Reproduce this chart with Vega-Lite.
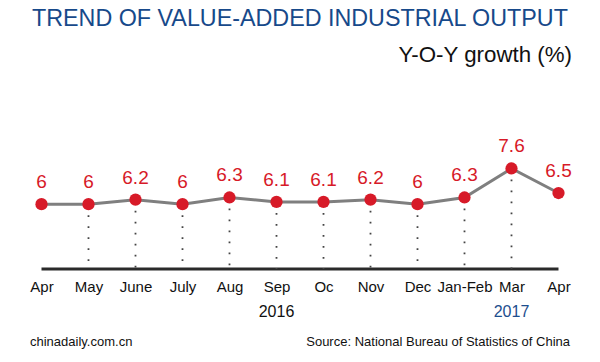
{
  "$schema": "https://vega.github.io/schema/vega-lite/v6.json",
  "width": 600,
  "height": 154,
  "autosize": {"type": "none"},
  "padding": {"left": 0, "right": 0, "top": 115, "bottom": 93},
  "background": "white",
  "title": {
    "text": "TREND OF VALUE-ADDED INDUSTRIAL OUTPUT",
    "anchor": "start",
    "frame": "group",
    "dx": 32,
    "offset": 12,
    "fontSize": 23.3,
    "font": "Liberation Sans",
    "fontWeight": "normal",
    "color": "#17498a"
  },
  "data": {
    "values": [
      {"m": "Apr 2016", "v": 6},
      {"m": "May", "v": 6},
      {"m": "June", "v": 6.2},
      {"m": "July", "v": 6},
      {"m": "Aug", "v": 6.3},
      {"m": "Sep", "v": 6.1},
      {"m": "Oc", "v": 6.1},
      {"m": "Nov", "v": 6.2},
      {"m": "Dec", "v": 6},
      {"m": "Jan-Feb", "v": 6.3},
      {"m": "Mar", "v": 7.6},
      {"m": "Apr 2017", "v": 6.5}
    ]
  },
  "layer": [
    {
      "data": {"values": [{}]},
      "mark": {"type": "rule", "color": "#2a2a2a", "strokeWidth": 3},
      "encoding": {
        "x": {"datum": "Apr 2016", "type": "nominal"},
        "x2": {"datum": "Apr 2017"},
        "y": {"datum": 3.09, "type": "quantitative"}
      }
    },
    {
      "transform": [{"filter": "datum.m != 'Apr 2016' && datum.m != 'Apr 2017'"}],
      "mark": {"type": "rule", "color": "#444444", "strokeWidth": 1.8, "strokeDash": [1.8, 9.2]},
      "encoding": {
        "x": {"field": "m", "type": "nominal", "sort": null},
        "y": {"field": "v", "type": "quantitative"},
        "y2": {"datum": 3.09}
      }
    },
    {
      "mark": {"type": "line", "color": "#7f7f7f", "strokeWidth": 3},
      "encoding": {
        "x": {
          "field": "m",
          "type": "nominal",
          "sort": null,
          "title": null,
          "scale": {
            "type": "point",
            "padding": 0.883,
            "domain": ["Apr 2016", "May", "June", "July", "Aug", "Sep", "Oc", "Nov", "Dec", "Jan-Feb", "Mar", "Apr 2017"]
          }
        },
        "y": {
          "field": "v",
          "type": "quantitative",
          "title": "Y-O-Y growth (%)",
          "scale": {"domain": [3.09, 10], "nice": false, "zero": false}
        }
      }
    },
    {
      "mark": {"type": "circle", "color": "#d71a28", "size": 150, "opacity": 1},
      "encoding": {
        "x": {"field": "m", "type": "nominal", "sort": null},
        "y": {"field": "v", "type": "quantitative"}
      }
    },
    {
      "mark": {"type": "text", "color": "#d71a28", "dy": -22, "fontSize": 19, "font": "Liberation Sans"},
      "encoding": {
        "x": {"field": "m", "type": "nominal", "sort": null},
        "y": {"field": "v", "type": "quantitative"},
        "text": {"field": "v", "type": "quantitative"}
      }
    },
    {
      "data": {"values": [{"m": "Sep", "year": "2016"}, {"m": "Mar", "year": "2017"}]},
      "mark": {"type": "text", "dy": 43, "fontSize": 16, "font": "Liberation Sans"},
      "encoding": {
        "x": {"field": "m", "type": "nominal", "sort": null},
        "y": {"datum": 3.09, "type": "quantitative"},
        "text": {"field": "year"},
        "color": {"field": "year", "type": "nominal", "scale": {"domain": ["2016", "2017"], "range": ["#111111", "#1d4e8e"]}, "legend": null}
      }
    },
    {
      "data": {"values": [{"m": "Apr 2016", "t": "chinadaily.com.cn"}]},
      "mark": {"type": "text", "align": "left", "baseline": "alphabetic", "dx": -11.5, "dy": 77, "fontSize": 13, "font": "Liberation Sans", "color": "#111111"},
      "encoding": {
        "x": {"field": "m", "type": "nominal", "sort": null},
        "y": {"datum": 3.09, "type": "quantitative"},
        "text": {"field": "t"}
      }
    },
    {
      "data": {"values": [{"m": "Apr 2017", "t": "Source: National Bureau of Statistics of China"}]},
      "mark": {"type": "text", "align": "right", "baseline": "alphabetic", "dx": 11.5, "dy": 77, "fontSize": 13, "font": "Liberation Sans", "color": "#111111"},
      "encoding": {
        "x": {"field": "m", "type": "nominal", "sort": null},
        "y": {"datum": 3.09, "type": "quantitative"},
        "text": {"field": "t"}
      }
    }
  ],
  "config": {
    "view": {"stroke": null},
    "font": "Liberation Sans",
    "axisX": {
      "labelExpr": "split(datum.label, ' ')[0]",
      "domain": false,
      "ticks": false,
      "grid": false,
      "labelAngle": 0,
      "labelPadding": 10,
      "labelFontSize": 15,
      "labelFont": "Liberation Sans",
      "labelColor": "#111111"
    },
    "axisY": {
      "titleAngle": 0,
      "titleAlign": "right",
      "titleBaseline": "alphabetic",
      "titleX": 571.5,
      "titleY": -53.3,
      "titleFontSize": 22.3,
      "titleFontWeight": "normal",
      "titleFont": "Liberation Sans",
      "titleColor": "#111111",
      "labels": false,
      "ticks": false,
      "domain": false,
      "grid": false
    }
  }
}
